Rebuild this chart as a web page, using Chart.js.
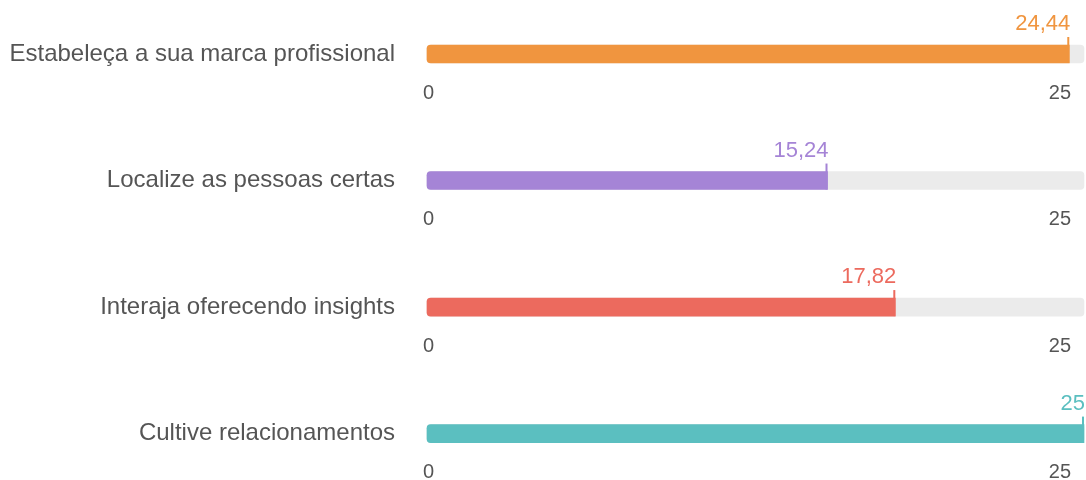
<!DOCTYPE html>
<html>
<head>
<meta charset="utf-8">
<script src="https://cdn.jsdelivr.net/npm/chart.js@4/dist/chart.umd.min.js"></script>
<style>
html,body{margin:0;padding:0;background:#fff;}
#wrap{width:1086px;height:480px;}
</style>
</head>
<body>
<div id="wrap"><canvas id="c" width="1086" height="480"></canvas></div>
<script>
const categories = ["Estabeleça a sua marca profissional", "Localize as pessoas certas", "Interaja oferecendo insights", "Cultive relacionamentos"];
const values = [24.44, 15.24, 17.82, 25];
const maxValues = [25, 25, 25, 25];
const axisTicks = [0, 25];
const colors = ["#f0953f", "#a584d6", "#ec6a5e", "#5bbfc0"];
const FONT = "'Liberation Sans', Arial, Helvetica, sans-serif";

function fmt(v){ return String(v).replace('.', ','); }

const gaugePlugin = {
  id: 'gauge',
  afterDatasetsDraw(chart){
    const ctx = chart.ctx;
    const meta = chart.getDatasetMeta(0);
    const xs = chart.scales.x;
    ctx.save();
    meta.data.forEach((bar, i) => {
      const p = bar.getProps(['x','y','height'], true);
      const h = p.height;
      const top = p.y - h/2;
      // end marker
      ctx.fillStyle = colors[i];
      ctx.fillRect(p.x - 2, top - 8, 2, h + 8);
      // value label
      ctx.font = "22px " + FONT;
      ctx.textAlign = 'right';
      ctx.textBaseline = 'alphabetic';
      ctx.fillText(fmt(values[i]), p.x + 1, top - 15);
      // axis ticks 0 / 25
      ctx.fillStyle = '#555';
      ctx.font = "20px " + FONT;
      ctx.textBaseline = 'middle';
      ctx.textAlign = 'left';
      ctx.fillText(String(axisTicks[0]), xs.getPixelForValue(axisTicks[0]) - 4, p.y + 39);
      ctx.textAlign = 'right';
      ctx.fillText(String(axisTicks[1]), xs.getPixelForValue(axisTicks[1]) - 13, p.y + 39);
    });
    ctx.restore();
  }
};

new Chart(document.getElementById('c'), {
  type: 'bar',
  data: {
    labels: categories,
    datasets: [
      {
        data: values,
        backgroundColor: colors,
        barThickness: 18,
        borderSkipped: false,
        borderRadius: {topLeft: 4, bottomLeft: 4, topRight: 0, bottomRight: 0},
        grouped: false,
        clip: false,
        order: 0
      },
      {
        data: maxValues,
        backgroundColor: '#ebebeb',
        barThickness: 18,
        borderSkipped: false,
        borderRadius: 4,
        grouped: false,
        clip: false,
        order: 1
      }
    ]
  },
  options: {
    indexAxis: 'y',
    responsive: false,
    animation: false,
    layout: {padding: {top: 54, bottom: 46, left: 0, right: 2}},
    plugins: {legend: {display: false}, tooltip: {enabled: false}},
    scales: {
      x: {display: false, min: 0, max: 25},
      y: {
        offset: false,
        grid: {display: false, drawTicks: false},
        border: {display: false},
        afterFit(scale){ scale.width = 427; },
        ticks: {color: '#555', padding: 32, font: {family: FONT, size: 24}}
      }
    }
  },
  plugins: [gaugePlugin]
});
</script>
</body>
</html>
